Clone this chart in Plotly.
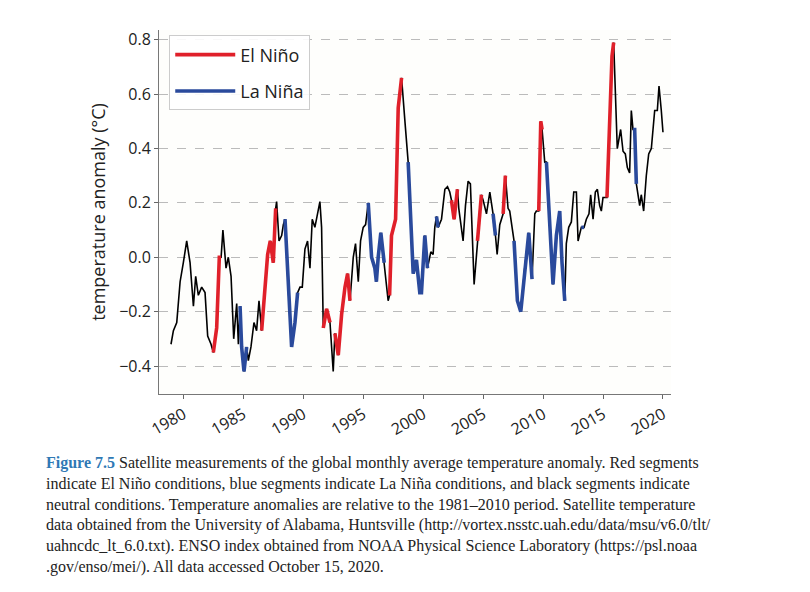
import plotly.graph_objects as go

years = [1978.97,1979.17,1979.45,1979.73,1980.0,1980.28,1980.56,1980.84,1981.03,1981.25,1981.53,1981.81,1982.03,1982.31,
1982.5,1982.78,1983.0,1983.15,1983.3,1983.56,1983.75,1983.98,1984.2,1984.45,1984.59,
1984.73,1984.86,1985.06,1985.28,1985.42,1985.64,1985.89,1986.11,1986.31,
1986.53,1986.81,1987.03,1987.25,1987.5,1987.7,1987.78,1987.98,1988.2,1988.34,
1988.48,1988.75,1989.03,1989.31,1989.53,1989.73,1989.92,1990.14,1990.36,1990.56,1990.75,1990.97,1991.2,1991.39,1991.53,
1991.67,1991.95,1992.23,1992.5,1992.64,1992.92,1993.2,1993.48,1993.7,1993.9,
1994.17,1994.36,1994.59,1994.78,1995.0,1995.2,
1995.42,1995.7,1995.97,1996.1,1996.25,1996.47,1996.75,1997.0,1997.08,
1997.2,1997.36,1997.7,1997.92,1998.2,1998.28,1998.48,
1998.75,1999.17,1999.44,1999.72,1999.86,2000.14,2000.36,
2000.64,2000.83,2000.97,2001.11,2001.25,2001.53,2001.81,2002.03,2002.22,
2002.36,2002.58,2002.86,2002.97,2003.33,2003.53,2003.75,2003.94,2004.25,
2004.53,2004.86,2005.0,2005.28,2005.56,2005.83,2006.03,2006.17,2006.39,2006.67,
2006.86,2007.08,2007.22,2007.58,2007.86,2008.14,2008.47,2008.81,2009.08,
2009.31,2009.44,2009.64,2009.81,2009.92,2010.14,
2010.28,2010.56,2010.83,2011.11,2011.39,2011.58,2011.81,
2011.94,2012.14,2012.36,2012.56,2012.78,2012.92,2013.19,2013.42,
2013.61,2013.83,2013.97,2014.17,2014.36,2014.53,2014.72,2014.86,2015.0,
2015.33,2015.56,2015.75,2015.89,2016.11,
2016.19,2016.47,2016.67,2016.86,2017.03,2017.22,2017.36,2017.5,
2017.64,2017.78,2018.06,
2018.19,2018.39,2018.61,2018.81,2019.03,2019.31,2019.53,2019.67,2019.86,2020.0]

anomaly = [-0.32,-0.27,-0.24,-0.09,-0.02,0.06,-0.02,-0.18,-0.07,-0.14,-0.11,-0.13,-0.29,-0.32,
-0.35,-0.26,0.0,0.0,0.1,-0.04,0.0,-0.07,-0.30,-0.17,-0.32,
-0.18,-0.33,-0.42,-0.33,-0.38,-0.33,-0.24,-0.27,-0.16,
-0.27,-0.11,0.01,0.06,-0.02,0.18,0.205,0.06,0.08,0.12,
0.14,-0.11,-0.33,-0.24,-0.13,-0.11,-0.11,0.03,0.06,-0.04,0.14,0.11,0.16,0.205,0.11,
-0.26,-0.19,-0.24,-0.42,-0.28,-0.36,-0.21,-0.11,-0.06,-0.16,
0.0,0.05,-0.09,0.06,0.11,0.12,
0.2,0.0,-0.04,-0.09,0.0,0.09,-0.02,-0.12,-0.16,
-0.14,0.08,0.14,0.55,0.66,0.62,0.50,
0.35,-0.06,-0.01,-0.13,-0.13,0.08,-0.04,
0.02,0.01,0.11,0.15,0.11,0.14,0.25,0.26,0.24,
0.21,0.14,0.25,0.18,0.06,0.19,0.28,0.27,-0.10,
0.06,0.23,0.21,0.16,0.24,0.16,0.08,0.01,0.12,0.16,
0.30,0.18,0.17,0.06,-0.16,-0.20,-0.04,0.09,-0.08,
0.16,0.17,0.17,0.50,0.47,0.35,
0.35,0.14,-0.10,0.08,0.17,-0.02,-0.16,
0.05,0.11,0.13,0.24,0.24,0.06,0.11,0.11,
0.14,0.16,0.23,0.14,0.24,0.25,0.19,0.17,0.22,
0.22,0.47,0.74,0.79,0.54,
0.40,0.47,0.39,0.38,0.33,0.31,0.54,0.47,
0.47,0.27,0.19,
0.23,0.17,0.30,0.38,0.40,0.54,0.54,0.63,0.54,0.46]

phase = (["N"]*14 + ["E"]*4 + ["N"]*7 + ["L"]*4 + ["N"]*5 + ["E"]*6 + ["N"]*4 +
         ["L"]*5 + ["N"]*10 + ["E"]*3 + ["N"] + ["E"]*6 + ["N"]*6 +
         ["L"]*7 + ["N"]*2 + ["E"]*5 + ["N"]*2 +
         ["L"]*7 + ["N"]*3 + ["L"]*2 + ["N"]*4 + ["E"]*3 + ["N"]*6 +
         ["E"]*2 + ["N"]*3 + ["L"] + ["N"]*3 + ["E"] + ["N"]*3 + ["L"]*6 +
         ["N"]*2 + ["E"]*3 + ["N"] + ["L"]*7 + ["N"]*6 + ["L"]*2 + ["N"]*9 +
         ["E"]*4 + ["N"]*8 + ["L"]*3 + ["N"]*10)
phase = (phase + ["N"]*len(years))[:len(years)]

RED, BLUE = "#e0202a", "#2a4a9c"
fig = go.Figure()
fig.add_trace(go.Scatter(x=years, y=anomaly, mode="lines", line=dict(color="black", width=1.6),
                         showlegend=False, hoverinfo="skip"))
shown = {"E": False, "L": False}
i = 0
n = len(years)
while i < n:
    p = phase[i]
    if p in ("E", "L"):
        j = i
        while j + 1 < n and phase[j + 1] == p:
            j += 1
        xs, ys = years[i:j + 1], anomaly[i:j + 1]
        if len(xs) == 1:
            xs, ys = years[i:i + 2], anomaly[i:i + 2]
        fig.add_trace(go.Scatter(x=xs, y=ys, mode="lines",
                                 line=dict(color=RED if p == "E" else BLUE, width=3.6),
                                 name="El Niño" if p == "E" else "La Niña",
                                 legendgroup=p, showlegend=not shown[p]))
        shown[p] = True
        i = j + 1
    else:
        i += 1

caption = ("<b style='color:#2f79b5'>Figure 7.5</b> Satellite measurements of the global monthly average temperature anomaly. Red segments<br>"
           "indicate El Niño conditions, blue segments indicate La Niña conditions, and black segments indicate<br>"
           "neutral conditions. Temperature anomalies are relative to the 1981–2010 period. Satellite temperature<br>"
           "data obtained from the University of Alabama, Huntsville (http://vortex.nsstc.uah.edu/data/msu/v6.0/tlt/<br>"
           "uahncdc_lt_6.0.txt). ENSO index obtained from NOAA Physical Science Laboratory (https://psl.noaa<br>"
           ".gov/enso/mei/). All data accessed October 15, 2020.")
fig.add_annotation(text=caption, xref="paper", yref="paper", x=-0.225, y=-0.16, xanchor="left", yanchor="top",
                   align="left", showarrow=False,
                   font=dict(family="Liberation Serif", size=16, color="#222"))

fig.update_layout(
    width=810, height=592, paper_bgcolor="white", plot_bgcolor="#fefefc",
    margin=dict(l=151, r=147, t=22, b=206, autoexpand=False),
    font=dict(family="Open Sans", color="#222"),
    legend=dict(x=0.02, y=0.985, xanchor="left", yanchor="top", bordercolor="#cccccc", borderwidth=1,
                bgcolor="rgba(255,255,255,0.9)", font=dict(size=18), itemwidth=60),
    xaxis=dict(range=[1977.97, 2020.67], tickvals=[1980,1985,1990,1995,2000,2005,2010,2015,2020],
               tickangle=-30, ticks="outside", ticklen=4, tickcolor="#666", showgrid=False, zeroline=False,
               showline=True, linecolor="#777", tickfont=dict(size=16), automargin=False),
    yaxis=dict(range=[-0.503, 0.836], tickvals=[-0.4,-0.2,0,0.2,0.4,0.6,0.8], tickformat=".1f",
               ticks="outside", ticklen=4, tickcolor="#666", showline=True, linecolor="#777",
               gridcolor="#bbbbbb", griddash="dash", zeroline=False, tickfont=dict(size=16), automargin=False,
               title=dict(text="temperature anomaly (°C)", font=dict(size=18), standoff=8)),
)
fig.write_html("out.html")
